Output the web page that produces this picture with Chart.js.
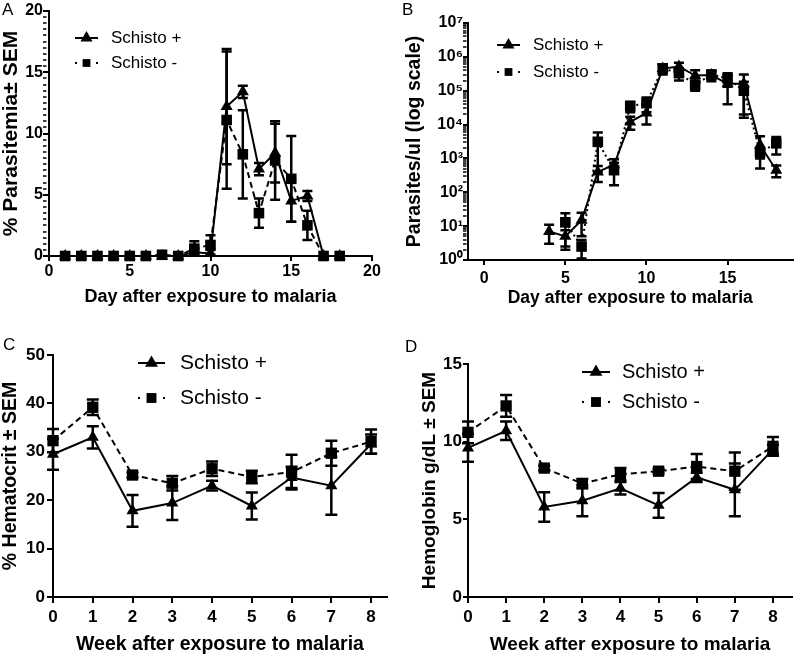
<!DOCTYPE html>
<html>
<head>
<meta charset="utf-8">
<script src="https://cdn.jsdelivr.net/npm/chart.js@4.4.0/dist/chart.umd.min.js"></script>
<style>
  html, body { margin: 0; padding: 0; background: #fff; }
  #wrap { position: relative; width: 800px; height: 654px; overflow: hidden; }
  .panel { position: absolute; width: 400px; height: 327px; }
  .letra { position: absolute; font-family: 'Liberation Sans', Arial, sans-serif; font-size: 17px; line-height: 17px; color: #000; }
</style>
</head>
<body>
<div id="wrap">
  <div class="panel" style="left:0;top:0"><canvas id="chartA" width="400" height="327"></canvas></div>
  <div class="panel" style="left:400px;top:0"><canvas id="chartB" width="400" height="327"></canvas></div>
  <div class="panel" style="left:0;top:327px"><canvas id="chartC" width="400" height="327"></canvas></div>
  <div class="panel" style="left:400px;top:327px"><canvas id="chartD" width="400" height="327"></canvas></div>
  <div class="letra" style="left:2px;top:1px">A</div>
  <div class="letra" style="left:402px;top:1px">B</div>
  <div class="letra" style="left:3px;top:336px">C</div>
  <div class="letra" style="left:405px;top:338px">D</div>
</div>
<script>
// Panel A - % parasitemia
var diasA = [1, 2, 3, 4, 5, 6, 7, 8, 9, 10, 11, 12, 13, 14, 15, 16, 17, 18];
var parasitemiaPos = [0, 0, 0, 0, 0, 0, 0, 0, 0.3, 0.2, 12.2, 13.4, 7.1, 8.4, 4.5, 4.9, 0, 0];
var parasitemiaPosSem = [0, 0, 0, 0, 0, 0, 0, 0, 0.3, 0.3, 4.7, 0.5, 0.5, 2.4, 1.7, 0.4, 0, 0];
var parasitemiaNeg = [0, 0, 0, 0, 0, 0, 0.1, 0, 0.6, 0.9, 11.1, 8.3, 3.5, 7.8, 6.3, 2.5, 0, 0];
var parasitemiaNegSem = [0, 0, 0, 0, 0, 0, 0, 0, 0.6, 0.8, 5.6, 3.6, 1.2, 3.2, 3.5, 1.2, 0, 0];
var ticksAx = [0, 5, 10, 15, 20];
var ticksAy = [0, 5, 10, 15, 20];

// Panel B - parasitos/ul (escala log)
var diasBPos = [4, 5, 6, 7, 8, 9, 10, 11, 12, 13, 14, 15, 16, 17, 18];
var parasitosPos = [7, 5, 15, 400, 650, 12000, 22000, 450000, 520000, 280000, 290000, 160000, 160000, 2500, 450];
var parasitosPosSem = [4, 2.5, 10, 200, 300, 5000, 12000, 150000, 150000, 120000, 100000, 120000, 140000, 2000, 170];
var diasBNeg = [5, 6, 7, 8, 9, 10, 11, 12, 13, 14, 15, 16, 17, 18];
var parasitosNeg = [13, 2.5, 3100, 450, 35000, 43000, 460000, 330000, 150000, 300000, 230000, 100000, 1500, 2800];
var parasitosNegSem = [11, 1.4, 2700, 290, 12000, 20000, 130000, 130000, 50000, 80000, 100000, 84000, 500, 1500];
var ticksBx = [0, 5, 10, 15];
var ticksBy = [1, 10, 100, 1000, 10000, 100000, 1000000, 10000000];
var etiquetasBy = ['10\u2070', '10\u00b9', '10\u00b2', '10\u00b3', '10\u2074', '10\u2075', '10\u2076', '10\u2077'];

// Panel C - hematocrito
var semanas = [0, 1, 2, 3, 4, 5, 6, 7, 8];
var hematocritoPos = [29.5, 33, 17.8, 19.4, 23, 18.8, 24.7, 23, 31.6];
var hematocritoPosSem = [3.2, 2.3, 3.3, 3.5, 1, 2.8, 2.2, 6, 2];
var hematocritoNeg = [32.3, 39.2, 25.2, 23.5, 26.5, 24.8, 25.8, 29.7, 32.1];
var hematocritoNegSem = [2.4, 1.6, 0.5, 1.5, 1.5, 1.3, 3.6, 2.6, 2.5];
var ticksCx = [0, 1, 2, 3, 4, 5, 6, 7, 8];
var ticksCy = [0, 10, 20, 30, 40, 50];

// Panel D - hemoglobina
var hemoglobinaPos = [9.6, 10.7, 5.8, 6.2, 7.0, 5.9, 7.7, 6.9, 9.5];
var hemoglobinaPosSem = [0.9, 0.6, 0.95, 1.0, 0.4, 0.8, 0.3, 1.7, 0.3];
var hemoglobinaNeg = [10.6, 12.3, 8.3, 7.3, 7.9, 8.1, 8.4, 8.1, 9.7];
var hemoglobinaNegSem = [0.7, 0.7, 0.15, 0.3, 0.4, 0.15, 0.8, 1.2, 0.6];
var ticksDx = [0, 1, 2, 3, 4, 5, 6, 7, 8];
var ticksDy = [0, 5, 10, 15];

var FUENTE = "'Liberation Sans', Arial, sans-serif";

// ticks menores del eje y (A cada 0.5, B log 2..9)
var menoresA = [];
for (var k = 0; k <= 40; k++) { if (k % 10 !== 0) menoresA.push(k * 0.5); }
var menoresB = [];
for (var e = 0; e < 7; e++) { for (var m = 2; m <= 9; m++) menoresB.push(m * Math.pow(10, e)); }

function puntos(xs, ys) {
    return xs.map(function (x, i) { return { x: x, y: ys[i] }; });
}

function dibujarMarca(ctx, estilo, x, y, r) {
    ctx.beginPath();
    if (estilo === 'triangle') {
        ctx.moveTo(x, y - r);
        ctx.lineTo(x + r * 0.866, y + r * 0.5);
        ctx.lineTo(x - r * 0.866, y + r * 0.5);
    } else {
        var h = r * 0.707;
        ctx.rect(x - h, y - h, 2 * h, 2 * h);
    }
    ctx.closePath();
    ctx.fill();
}

// barras de error (SEM)
var errorBars = {
    id: 'errorBars',
    beforeDatasetsDraw: function (chart) {
        var ctx = chart.ctx;
        var xs = chart.scales.x, ys = chart.scales.y;
        var cap = chart.options.plugins.errorBars.cap;
        ctx.save();
        ctx.strokeStyle = '#000';
        ctx.lineWidth = 2.5;
        chart.data.datasets.forEach(function (ds) {
            ds.data.forEach(function (p, i) {
                var s = ds.sem[i];
                if (!s) return;
                var px = xs.getPixelForValue(p.x);
                var hi = ys.getPixelForValue(p.y + s);
                var lo = ys.getPixelForValue(Math.max(p.y - s, ys.min));
                ctx.beginPath();
                ctx.moveTo(px, hi); ctx.lineTo(px, lo);
                ctx.moveTo(px - cap, hi); ctx.lineTo(px + cap, hi);
                if (p.y - s > ys.min) { ctx.moveTo(px - cap, lo); ctx.lineTo(px + cap, lo); }
                ctx.stroke();
            });
        });
        ctx.restore();
    }
};

// leyenda dentro del grafico
var panelLegend = {
    id: 'panelLegend',
    afterDraw: function (chart, args, o) {
        var ctx = chart.ctx;
        chart.data.datasets.forEach(function (ds, i) {
            var y = o.y + i * o.rowGap;
            ctx.save();
            ctx.fillStyle = '#000';
            ctx.strokeStyle = '#000';
            ctx.lineWidth = 2;
            if (ds.legendDotted) {
                ctx.fillRect(o.x, y - 1, 2, 2);
                ctx.fillRect(o.x + o.lineLen - 2, y - 1, 2, 2);
            } else {
                ctx.beginPath();
                ctx.moveTo(o.x, y); ctx.lineTo(o.x + o.lineLen, y);
                ctx.stroke();
            }
            dibujarMarca(ctx, ds.pointStyle, o.x + o.lineLen / 2, y, ds.pointStyle === 'triangle' ? o.triR : o.rectR);
            ctx.font = o.size + 'px ' + FUENTE;
            ctx.textBaseline = 'middle';
            ctx.fillText(ds.label, o.x + o.lineLen + o.textGap, y);
            ctx.restore();
        });
    }
};

function serie(label, xs, ys, sem, estilo, dash, radio, orden) {
    return {
        label: label,
        data: puntos(xs, ys),
        sem: sem,
        borderColor: '#000',
        backgroundColor: '#000',
        borderWidth: 2,
        borderDash: dash,
        pointStyle: estilo,
        pointRadius: radio,
        pointHoverRadius: radio,
        pointBackgroundColor: '#000',
        pointBorderColor: '#000',
        pointBorderWidth: 0,
        tension: 0,
        clip: false,
        legendDotted: dash.length > 0,
        order: orden
    };
}

function panel(id, c) {
    var ctx = document.getElementById(id).getContext('2d');
    var menores = c.menores || [];
    var todosY = c.yTicks.concat(menores).sort(function (a, b) { return a - b; });
    function esMayor(v) { return c.yTicks.indexOf(v) >= 0; }
    return new Chart(ctx, {
        type: 'line',
        data: { datasets: c.datasets },
        plugins: [errorBars, panelLegend],
        options: {
            responsive: false,
            animation: false,
            devicePixelRatio: 1,
            layout: { padding: c.padding },
            plugins: {
                legend: { display: false },
                tooltip: { enabled: false },
                errorBars: { cap: c.cap },
                panelLegend: c.legend
            },
            scales: {
                x: {
                    type: 'linear',
                    min: c.xMin,
                    max: c.xMax,
                    afterBuildTicks: function (s) { s.ticks = c.xTicks.map(function (v) { return { value: v }; }); },
                    afterFit: function (s) { s.height = c.xHeight; },
                    grid: { drawOnChartArea: false, drawTicks: true, tickLength: c.xTickLen, color: '#000', lineWidth: 2 },
                    border: { display: true, color: '#000', width: 2 },
                    ticks: {
                        color: '#000', padding: c.xTickPad, maxRotation: 0, autoSkip: false,
                        font: { family: FUENTE, size: c.tickSize, weight: 'bold', lineHeight: 1 }
                    },
                    title: {
                        display: true, text: c.xTitle, color: '#000',
                        font: { family: FUENTE, size: c.xTitleSize, weight: 'bold', lineHeight: 1 },
                        padding: { top: 0, bottom: c.xTitlePad }
                    }
                },
                y: {
                    type: c.yType,
                    min: c.yMin,
                    max: c.yMax,
                    afterBuildTicks: function (s) { s.ticks = todosY.map(function (v) { return { value: v, major: esMayor(v) }; }); },
                    afterFit: function (s) { s.width = c.yWidth; },
                    grid: {
                        drawOnChartArea: false, drawTicks: true, tickLength: c.yTickLen, color: '#000', lineWidth: 2,
                        tickWidth: function (t) { return t.tick && !esMayor(t.tick.value) ? 1.5 : 2; },
                        tickBorderDash: function (t) { return t.tick && !esMayor(t.tick.value) ? [3.5, 30] : []; }
                    },
                    border: { display: true, color: '#000', width: 2 },
                    ticks: {
                        color: '#000', padding: c.yTickPad, autoSkip: false,
                        font: { family: FUENTE, size: c.tickSize, weight: 'bold', lineHeight: 1 },
                        callback: function (v) {
                            if (!esMayor(v)) return '';
                            return c.yLabel ? c.yLabel(v) : v;
                        }
                    },
                    title: {
                        display: true, text: c.yTitle, color: '#000',
                        font: { family: FUENTE, size: c.yTitleSize, weight: 'bold', lineHeight: 1 },
                        padding: { top: c.yTitlePad, bottom: 0 }
                    }
                }
            }
        }
    });
}

var chartA = panel('chartA', {
    padding: { left: 0, top: 11, right: 28, bottom: 0 },
    xMin: 0, xMax: 20, xTicks: ticksAx, xHeight: 71, xTickLen: 5, xTickPad: 3,
    yType: 'linear', yMin: 0, yMax: 20, yTicks: ticksAy, yWidth: 49, yTickLen: 6, yTickPad: 0,
    menores: menoresA,
    tickSize: 16,
    xTitle: 'Day after exposure to malaria', xTitleSize: 18, xTitlePad: 21,
    yTitle: '% Parasitemia\u00b1 SEM', yTitleSize: 21, yTitlePad: 1,
    cap: 5,
    legend: { x: 75, y: 38, rowGap: 25, lineLen: 23, textGap: 13, size: 17, triR: 7, rectR: 5.5 },
    datasets: [
        serie('Schisto +', diasA, parasitemiaPos, parasitemiaPosSem, 'triangle', [], 7, 1),
        serie('Schisto -', diasA, parasitemiaNeg, parasitemiaNegSem, 'rect', [6, 4], 7.5, 0)
    ]
});

var chartB = panel('chartB', {
    padding: { left: 0, top: 23, right: 0, bottom: 0 },
    xMin: -1, xMax: 19, xTicks: ticksBx, xHeight: 67, xTickLen: 5, xTickPad: 6,
    yType: 'logarithmic', yMin: 1, yMax: 10000000, yTicks: ticksBy, yWidth: 68, yTickLen: 5, yTickPad: 0,
    yLabel: function (v) { return etiquetasBy[ticksBy.indexOf(v)]; },
    menores: menoresB,
    tickSize: 16,
    xTitle: 'Day after exposure to malaria', xTitleSize: 17.5, xTitlePad: 20,
    yTitle: 'Parasites/ul (log scale)', yTitleSize: 19.5, yTitlePad: 5,
    cap: 5,
    legend: { x: 97, y: 45, rowGap: 27, lineLen: 23, textGap: 13, size: 17, triR: 7, rectR: 5.5 },
    datasets: [
        serie('Schisto +', diasBPos, parasitosPos, parasitosPosSem, 'triangle', [], 7, 1),
        serie('Schisto -', diasBNeg, parasitosNeg, parasitosNegSem, 'rect', [2, 3], 7.5, 0)
    ]
});

var chartC = panel('chartC', {
    padding: { left: 0, top: 28, right: 13, bottom: 0 },
    xMin: 0, xMax: 8.4, xTicks: ticksCx, xHeight: 57, xTickLen: 6, xTickPad: 6,
    yType: 'linear', yMin: 0, yMax: 50, yTicks: ticksCy, yWidth: 53, yTickLen: 6, yTickPad: 2,
    tickSize: 17,
    xTitle: 'Week after exposure to malaria', xTitleSize: 19.5, xTitlePad: 0,
    yTitle: '% Hematocrit \u00b1 SEM', yTitleSize: 19.5, yTitlePad: 1,
    cap: 6,
    legend: { x: 138, y: 36, rowGap: 35, lineLen: 27, textGap: 15, size: 21, triR: 7.5, rectR: 7 },
    datasets: [
        serie('Schisto +', semanas, hematocritoPos, hematocritoPosSem, 'triangle', [], 7, 1),
        serie('Schisto -', semanas, hematocritoNeg, hematocritoNegSem, 'rect', [6, 4], 8, 0)
    ]
});

var chartD = panel('chartD', {
    padding: { left: 0, top: 37, right: 0, bottom: 0 },
    xMin: 0, xMax: 8.5, xTicks: ticksDx, xHeight: 57, xTickLen: 6, xTickPad: 6,
    yType: 'linear', yMin: 0, yMax: 15, yTicks: ticksDy, yWidth: 68, yTickLen: 5, yTickPad: 1,
    tickSize: 17,
    xTitle: 'Week after exposure to malaria', xTitleSize: 19, xTitlePad: 0,
    yTitle: 'Hemoglobin g/dL \u00b1 SEM', yTitleSize: 19, yTitlePad: 20,
    cap: 6,
    legend: { x: 182, y: 45, rowGap: 30, lineLen: 28, textGap: 12, size: 20, triR: 7.5, rectR: 7 },
    datasets: [
        serie('Schisto +', semanas, hemoglobinaPos, hemoglobinaPosSem, 'triangle', [], 7, 1),
        serie('Schisto -', semanas, hemoglobinaNeg, hemoglobinaNegSem, 'rect', [6, 4], 8, 0)
    ]
});
</script>
</body>
</html>
